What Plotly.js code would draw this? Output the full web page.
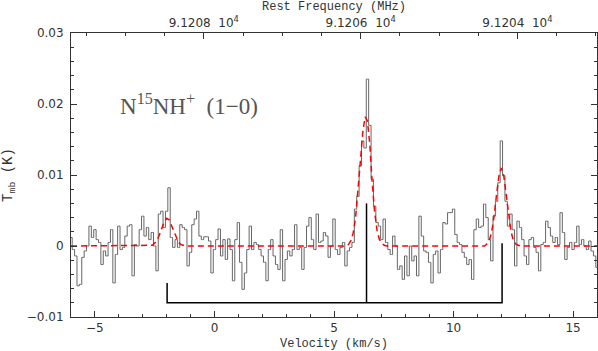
<!DOCTYPE html>
<html>
<head>
<meta charset="utf-8">
<script src="https://cdn.plot.ly/plotly-3.0.1.min.js"></script>
<style>html,body{margin:0;padding:0;background:#fff;}#chart{width:598px;height:351px;}</style>
</head>
<body>
<div id="chart"></div>
<script>
// Spectrum: channel start velocity and width (km/s)
const specV0 = -6.0;
const specDV = 0.1;
// Main-beam temperature per channel, in mK
const tmb_mK = [
  1.2, -0.5, -1.4, -5.6, -5.4, -1.6, -0.7, 0, 2.8, 1.2,
  2.3, 0.9, 0.5, -2.6, -0.7, -1.4, 0.5, 2.3, -5.2, -1.2,
  2.8, -0.5, -0.2, 1.4, 2.8, 3.0, -4.2, 0.2, 0, 2.3,
  4.2, 1.4, 2.6, 0.9, 1.9, 0, -3.5, 4.5, 4.9, 2.6,
  4.9, 8.2, 1.2, -0.2, 0.9, -0.2, 3.0, 2.6, 2.3, -2.8,
  -0.9, 3.0, 3.8, 4.9, 1.4, 0.9,
  1.3, 1.3, 0.7, -3.8, -0.5, 0.9, 2.4, -1.4, 0.9, -1.9,
  1.0, -0.5, -4.9, 0.9, 3.3, -2.3, -6.1, -3.8, -0.5, 2.8,
  -0.5, 0.5, 0.2, -0.5, -1.4, -2.3, -4.9, -0.5, 0.9, -1.4,
  -2.6, -3.3, 2.3, -4.9, -1.9, -0.7, -1.4, -0.5, 3.0, -0.5,
  -0.2, -3.3, -0.2, 2.8, 4.0, 0.9, -0.5, 4.5, 0.5, 0.7,
  1.9, 1.4, -1.6, 0, 3.8, -0.5, -1.2,
  -0.2, 0.5, -2.8, -0.7, -0.2, 0.5, 5.2, 7.0, 11.3, 14.8,
  13.8, 23.5, 17.0, 9.4, 5.6, 3.3, 2.8, 0.9, 3.8, 0.5,
  -0.5, -1.2, 1.4, 0, -3.3, -2.8, -4.7, -1.4, -4.2, 0,
  -2.1, -1.4, -4.2, 4.2, 1.4, -0.7, -0.9, -2.3, -5.2, -1.2,
  -0.7, -3.8, -0.5, 3.3, 3.1, 4.7, 4.7, 5.2, 1.6, 0.5,
  0.2, -0.9, -1.6, -2.6, -1.9, -4.7,
  2.3, 3.8, 2.6, 2.8, 5.9, 4.0, 0.9, -2.1, 4.2, 6.3,
  8.9, 14.8, 9.9, 6.3, 2.8, 4.5, 2.3, -2.8, 3.5, 2.6,
  0.9, -1.4, -2.6, 0.9, 1.2, -0.2, -0.9, -3.5, 0.2, 0.5,
  3.5, 2.6, 1.4, 0.5, 1.2, 0.2, 4.7, 1.9, -1.9, -0.2,
  0.5, -0.5, 0.5, 2.8, 0.2, 0.9, 0, -0.5, 0.7, -0.7,
  -1.4, -3.0
];

// Hyperfine fit (red dashed)
const fitV = [-6.0, -2.7, -2.6, -2.5, -2.4, -2.3, -2.2, -2.1, -2.0, -1.9, -1.8, -1.7, -1.6, -1.5, -1.4, -1.3, -1.2,
  5.4, 5.5, 5.6, 5.7, 5.8, 5.9, 6.0, 6.1, 6.2, 6.3, 6.4, 6.5, 6.6, 6.7, 6.8, 6.9, 7.0, 7.1, 7.2,
  11.3, 11.4, 11.5, 11.6, 11.7, 11.8, 11.9, 12.0, 12.1, 12.2, 12.3, 12.4, 12.5, 12.6, 12.7, 12.8, 16.0];
const fit_mK = [0, 0, 0.1, 0.4, 0.8, 1.6, 2.6, 3.4, 3.9, 3.7, 2.9, 2.0, 1.1, 0.5, 0.2, 0.1, 0,
  0, 0.1, 0.2, 0.7, 1.8, 3.9, 7.4, 11.8, 15.9, 18.2, 17.6, 14.2, 8.8, 4.8, 2.2, 0.9, 0.4, 0.1, 0,
  0, 0.3, 0.8, 2.1, 4.3, 7.3, 9.9, 11.0, 9.9, 7.3, 4.3, 2.1, 0.8, 0.3, 0.1, 0, 0];

// Hyperfine component positions (km/s) and marker heights (K)
const hfV = [-1.98, 6.36, 12.03];
const hfTop = [-0.0052, 0.0060, 0.0004];
const hfBase = -0.008;

// Top axis: rest frequency (MHz)
const freqRange = [91209.694, 91202.985];
const freqTicks = [91208, 91206, 91204];
const freqTickText = ['9.1208  10<sup>4</sup>', '9.1206  10<sup>4</sup>', '9.1204  10<sup>4</sup>'];

const tmb = tmb_mK.map(v => v / 1000);
const fitT = fit_mK.map(v => v / 1000);

const axisColor = '#333';
const tickFont = {family: 'DejaVu Sans, sans-serif', size: 12, color: '#333'};
const titleFont = {family: 'Liberation Mono, monospace', size: 12, color: '#333'};

const traces = [
  {
    type: 'scatter', mode: 'lines', y: tmb, x0: specV0, dx: specDV,
    line: {color: '#666', width: 1, shape: 'hvh'},
    hoverinfo: 'skip', showlegend: false
  },
  {
    type: 'scatter', mode: 'lines', x: fitV, y: fitT,
    line: {color: '#ff0000', width: 1.5, dash: '6px,4px'},
    hoverinfo: 'skip', showlegend: false
  },
  {
    type: 'scatter', mode: 'lines',
    x: [hfV[0], hfV[0], hfV[2], hfV[2], null, hfV[1], hfV[1]],
    y: [hfTop[0], hfBase, hfBase, hfTop[2], null, hfBase, hfTop[1]],
    line: {color: '#000', width: 1.5},
    hoverinfo: 'skip', showlegend: false
  },
  {
    type: 'scatter', mode: 'none', x: freqTicks, y: [null, null, null],
    xaxis: 'x2', yaxis: 'y', hoverinfo: 'skip', showlegend: false
  }
];

const layout = {
  width: 598, height: 351,
  margin: {l: 71, r: 1, t: 33, b: 34, pad: 0},
  paper_bgcolor: '#fff', plot_bgcolor: '#fff',
  showlegend: false,
  xaxis: {
    range: [-6, 16], dtick: 5, tick0: 0,
    ticks: 'inside', ticklen: 6, tickcolor: axisColor, tickwidth: 1,
    minor: {dtick: 1, tick0: 0, ticks: 'inside', ticklen: 3, tickcolor: axisColor, showgrid: false},
    showline: true, linecolor: axisColor, linewidth: 1, mirror: false,
    showgrid: false, zeroline: false,
    tickfont: tickFont,
    title: {text: 'Velocity (km/s)', font: titleFont, standoff: 4}
  },
  xaxis2: {
    overlaying: 'x', side: 'top', anchor: 'y',
    range: freqRange,
    tickmode: 'array', tickvals: freqTicks, ticktext: freqTickText,
    ticks: 'inside', ticklen: 6, tickcolor: axisColor, tickwidth: 1,
    minor: {tickmode: 'linear', tick0: 91200, dtick: 0.5, ticks: 'inside', ticklen: 3, tickcolor: axisColor, showgrid: false},
    showline: true, linecolor: axisColor, linewidth: 1,
    showgrid: false, zeroline: false,
    tickfont: tickFont,
    title: {text: 'Rest Frequency (MHz)', font: titleFont, standoff: 2}
  },
  yaxis: {
    range: [-0.01, 0.03], dtick: 0.01, tick0: 0,
    ticks: 'inside', ticklen: 6, tickcolor: axisColor, tickwidth: 1,
    minor: {dtick: 0.002, tick0: 0, ticks: 'inside', ticklen: 3, tickcolor: axisColor, showgrid: false},
    showline: true, linecolor: axisColor, linewidth: 1, mirror: 'ticks',
    showgrid: false, zeroline: false,
    tickfont: tickFont, ticklabelstandoff: 4,
    title: {text: 'T<sub>mb</sub> (K)', font: {family: 'Liberation Mono, monospace', size: 14, color: '#333'}, standoff: 10}
  },
  annotations: [{
    xref: 'paper', yref: 'paper', x: 0.225, y: 0.748,
    xanchor: 'center', yanchor: 'middle', showarrow: false,
    text: 'N<sup>15</sup>NH<sup>+</sup>  (1\u22120)',
    font: {family: 'Liberation Serif, serif', size: 23, color: '#555'}
  }]
};

Plotly.newPlot('chart', traces, layout, {staticPlot: true, displayModeBar: false});
</script>
</body>
</html>
